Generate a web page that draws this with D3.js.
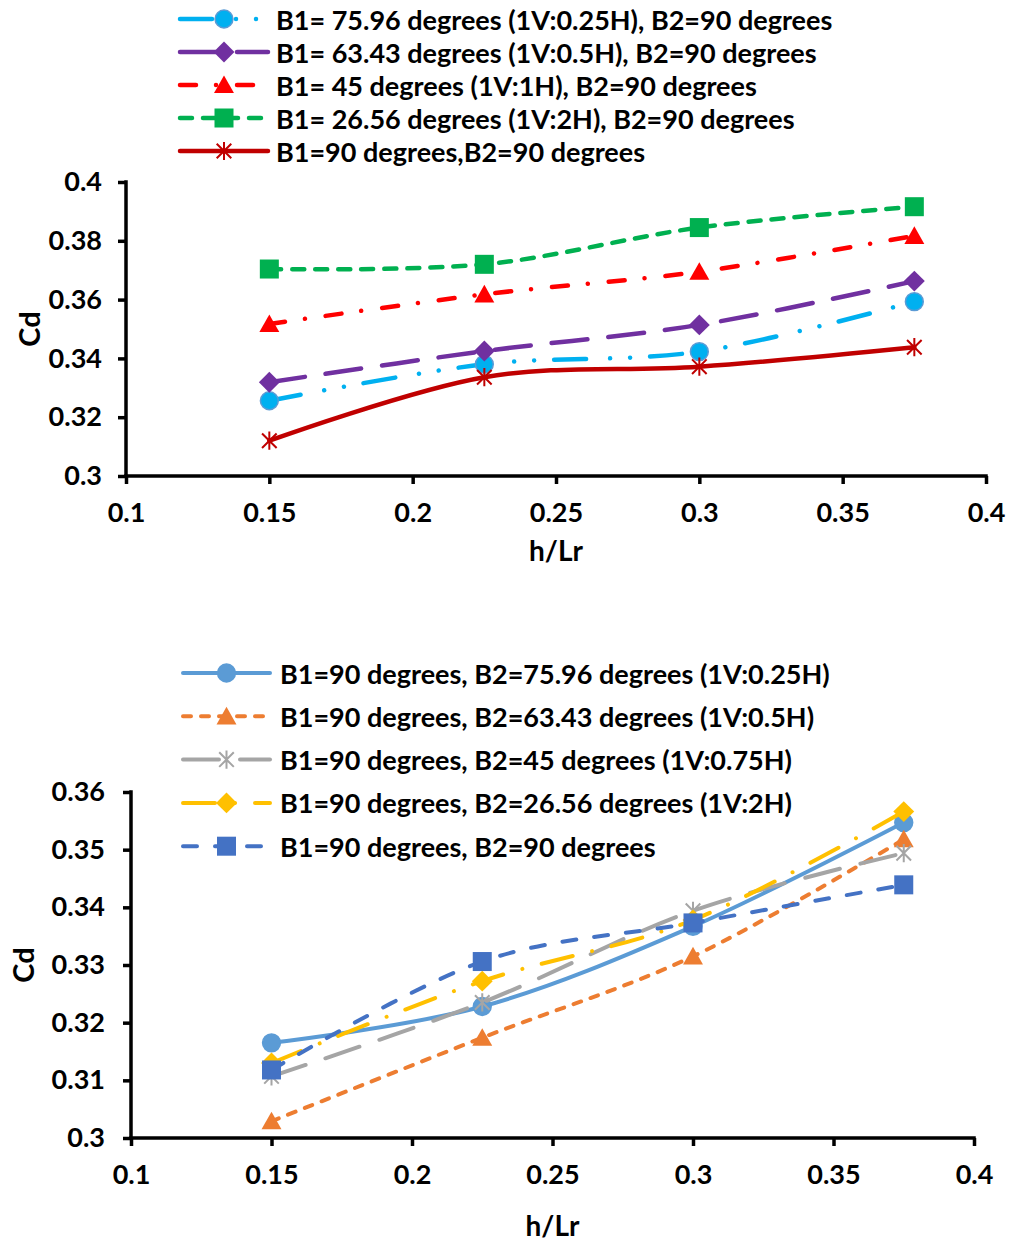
<!DOCTYPE html>
<html>
<head>
<meta charset="utf-8">
<script src="https://cdn.jsdelivr.net/npm/d3@7"></script>
<style>
  html, body { margin: 0; padding: 0; background: #fff; }
  svg text { font-family: Lato, "Open Sans", sans-serif; font-weight: bold; fill: #000; }
</style>
</head>
<body>
<svg id="chart" width="1009" height="1245"></svg>
<script>
// ---------- DATA ----------
const xValues = [0.15, 0.225, 0.3, 0.375];
const xTicks = [0.1, 0.15, 0.2, 0.25, 0.3, 0.35, 0.4];
const xTickLabels = ["0.1", "0.15", "0.2", "0.25", "0.3", "0.35", "0.4"];

// Chart 1 (top)
const topNames = [
  "B1= 75.96 degrees (1V:0.25H), B2=90 degrees",
  "B1= 63.43 degrees (1V:0.5H), B2=90 degrees",
  "B1= 45 degrees (1V:1H), B2=90 degrees",
  "B1= 26.56 degrees (1V:2H), B2=90 degrees",
  "B1=90 degrees,B2=90 degrees"
];
const top1 = [0.3256, 0.3380, 0.3423, 0.3593];
const top2 = [0.3319, 0.3425, 0.3514, 0.3663];
const top3 = [0.3517, 0.3618, 0.3695, 0.3817];
const top4 = [0.3704, 0.3720, 0.3845, 0.3916];
const top5 = [0.3120, 0.3336, 0.3372, 0.3438];
const topYTicks = [0.3, 0.32, 0.34, 0.36, 0.38, 0.4];
const topYTickLabels = ["0.3", "0.32", "0.34", "0.36", "0.38", "0.4"];

// Chart 2 (bottom)
const botNames = [
  "B1=90 degrees, B2=75.96 degrees (1V:0.25H)",
  "B1=90 degrees, B2=63.43 degrees (1V:0.5H)",
  "B1=90 degrees, B2=45 degrees (1V:0.75H)",
  "B1=90 degrees, B2=26.56 degrees (1V:2H)",
  "B1=90 degrees, B2=90 degrees"
];
const bot1 = [0.3165, 0.3228, 0.3367, 0.3547];
const bot2 = [0.3029, 0.3174, 0.3315, 0.3518];
const bot3 = [0.3107, 0.3235, 0.3394, 0.3494];
const bot4 = [0.3130, 0.3272, 0.3378, 0.3566];
const bot5 = [0.3118, 0.3306, 0.3373, 0.3439];
const botYTicks = [0.3, 0.31, 0.32, 0.33, 0.34, 0.35, 0.36];
const botYTickLabels = ["0.3", "0.31", "0.32", "0.33", "0.34", "0.35", "0.36"];

// ---------- STYLES ----------
const topStyles = [
  {color: "#00B0F0", dash: "32,24,0.01,20,0.01,20", marker: "circle", mstroke: "#5B9BD5"},
  {color: "#7030A0", dash: "36,21", marker: "diamond"},
  {color: "#FF0000", dash: "16,20,0.01,21", marker: "triangle"},
  {color: "#00B050", dash: "12,11", marker: "square"},
  {color: "#C00000", dash: null, marker: "star"}
];
const botStyles = [
  {color: "#5B9BD5", dash: null, marker: "circle"},
  {color: "#ED7D31", dash: "8,10", marker: "triangle"},
  {color: "#A5A5A5", dash: "36,21", marker: "star"},
  {color: "#FFC000", dash: "32,20,0.01,20", marker: "diamond"},
  {color: "#4472C4", dash: "14,18", marker: "square"}
];

const svg = d3.select("#chart");

function drawMarker(g, type, x, y, st, size) {
  const s = size;
  if (type === "circle") {
    g.append("circle").attr("cx", x).attr("cy", y).attr("r", s * 0.47)
      .attr("fill", st.color).attr("stroke", st.mstroke || st.color).attr("stroke-width", 1.5);
  } else if (type === "diamond") {
    const h = s * 0.55;
    g.append("path").attr("d", `M${x},${y-h}L${x+h},${y}L${x},${y+h}L${x-h},${y}Z`)
      .attr("fill", st.color);
  } else if (type === "triangle") {
    const h = s * 0.5;
    g.append("path").attr("d", `M${x},${y-h}L${x+h*1.05},${y+h*0.85}L${x-h*1.05},${y+h*0.85}Z`)
      .attr("fill", st.color);
  } else if (type === "square") {
    const h = s * 0.5;
    g.append("rect").attr("x", x-h).attr("y", y-h).attr("width", 2*h).attr("height", 2*h)
      .attr("fill", st.color);
  } else if (type === "star") {
    const h = s * 0.48;
    const d = h * 0.8;
    g.append("path").attr("d",
      `M${x},${y-h}L${x},${y+h}M${x-d},${y-d}L${x+d},${y+d}M${x-d},${y+d}L${x+d},${y-d}`)
      .attr("stroke", st.color).attr("stroke-width", 2).attr("fill", "none");
  }
}

function drawChart(cfg) {
  const x = d3.scaleLinear().domain([0.1, 0.4]).range([cfg.x0, cfg.x1]);
  const y = d3.scaleLinear().domain([0.3, cfg.ymax]).range([cfg.y0, cfg.y1]);
  const g = svg.append("g");

  // axes
  const xAxis = d3.axisBottom(x).tickValues(xTicks).tickFormat((d, i) => xTickLabels[i])
    .tickSize(8).tickSizeOuter(0).tickPadding(19);
  const yAxis = d3.axisLeft(y).tickValues(cfg.yTicks).tickFormat((d, i) => cfg.yTickLabels[i])
    .tickSize(8).tickSizeOuter(0).tickPadding(cfg.yPad);
  const gx = g.append("g").attr("transform", `translate(0,${cfg.y0})`).call(xAxis);
  const gy = g.append("g").attr("transform", `translate(${cfg.x0},0)`).call(yAxis);
  [gx, gy].forEach(a => {
    a.select(".domain").attr("stroke", "#000").attr("stroke-width", 3.5);
    a.selectAll(".tick line").attr("stroke", "#000").attr("stroke-width", 3.5);
    a.selectAll(".tick text").attr("font-size", 27).attr("font-family", "Lato").attr("font-weight", "bold").attr("fill", "#000");
  });
  gx.select(".domain").attr("d", `M${cfg.x0 - 1.75},0H${cfg.x1 + 1.75}`);
  gy.select(".domain").attr("d", `M0,${cfg.y0 + 1.75}V${cfg.y1 - 1.75}`);

  // axis titles
  g.append("text").attr("x", (cfg.x0 + cfg.x1) / 2).attr("y", cfg.xTitleY)
    .attr("text-anchor", "middle").attr("font-size", 28).text("h/Lr");
  g.append("text").attr("transform", `translate(${cfg.yTitleX},${(cfg.y0 + cfg.y1) / 2}) rotate(-90)`)
    .attr("text-anchor", "middle").attr("dominant-baseline", "central").attr("font-size", 29).text("Cd");

  // series
  const line = d3.line().x((d, i) => x(xValues[i])).y(d => y(d)).curve(d3.curveCardinal.tension(0));
  cfg.series.forEach((data, k) => {
    const st = cfg.styles[k];
    g.append("path").attr("d", line(data)).attr("fill", "none")
      .attr("stroke", st.color).attr("stroke-width", cfg.lw)
      .attr("stroke-linecap", "round")
      .attr("stroke-dasharray", st.dash);
    data.forEach((v, i) => drawMarker(g, st.marker, x(xValues[i]), y(v), st, cfg.msize));
  });

  // legend
  cfg.names.forEach((name, k) => {
    const st = cfg.styles[k];
    const ly = cfg.legY0 + k * cfg.legDy;
    const lg = svg.append("g");
    lg.append("path").attr("d", `M${cfg.legX0},${ly}H${cfg.legX1}`)
      .attr("stroke", st.color).attr("stroke-width", cfg.lw).attr("fill", "none")
      .attr("stroke-linecap", "round").attr("stroke-dasharray", st.dash);
    drawMarker(lg, st.marker, (cfg.legX0 + cfg.legX1) / 2, ly, st, cfg.msize);
    lg.append("text").attr("x", cfg.legTextX).attr("y", ly).attr("dominant-baseline", "central")
      .attr("font-size", cfg.legFont).text(name);
  });
}

drawChart({
  x0: 126, x1: 986, y0: 476, y1: 182, ymax: 0.4,
  yTicks: topYTicks, yTickLabels: topYTickLabels, yPad: 16,
  xTitleY: 561, yTitleX: 28,
  series: [top1, top2, top3, top4, top5], styles: topStyles, names: topNames,
  lw: 4.5, msize: 19,
  legY0: 19, legDy: 33, legX0: 180, legX1: 268, legTextX: 276, legFont: 27
});

drawChart({
  x0: 131, x1: 974, y0: 1138, y1: 792, ymax: 0.36,
  yTicks: botYTicks, yTickLabels: botYTickLabels, yPad: 18,
  xTitleY: 1236, yTitleX: 22,
  series: [bot1, bot2, bot3, bot4, bot5], styles: botStyles, names: botNames,
  lw: 4, msize: 19,
  legY0: 673, legDy: 43.3, legX0: 183, legX1: 270, legTextX: 280, legFont: 27
});
</script>
</body>
</html>
